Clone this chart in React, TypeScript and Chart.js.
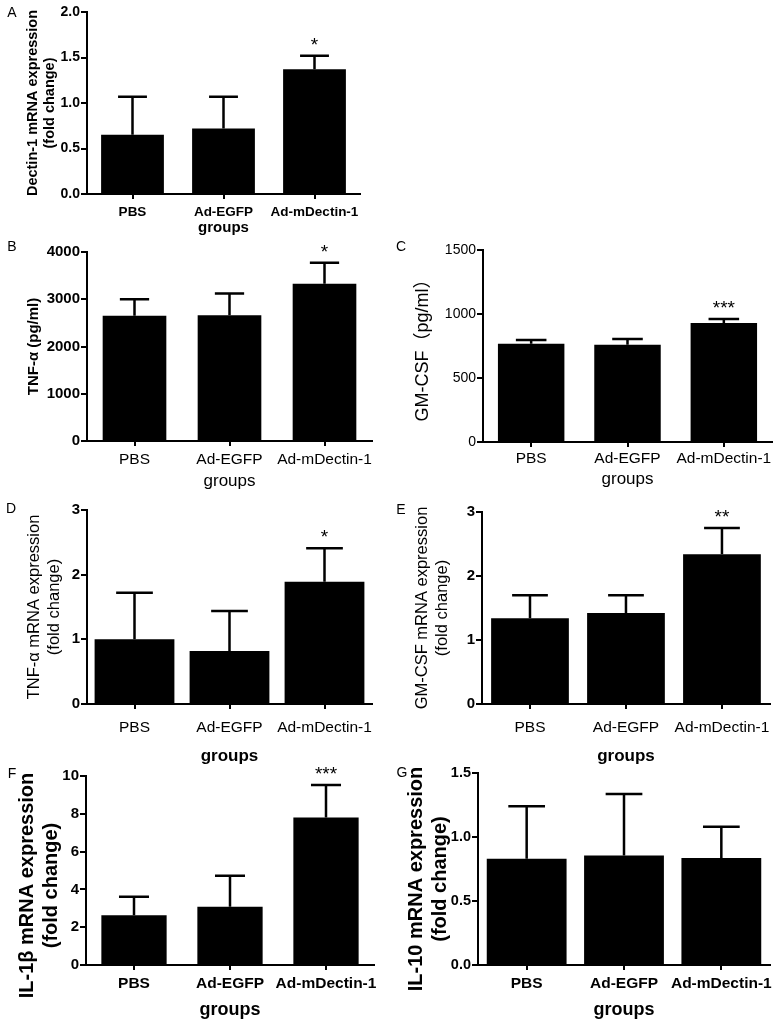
import React, { useEffect, useRef } from 'react';
import { Chart, registerables } from 'chart.js';

Chart.register(...registerables);

const FONT = "'Liberation Sans', Arial, 'Noto Sans CJK SC', sans-serif";

// ---- data ----
const groups = ['PBS', 'Ad-EGFP', 'Ad-mDectin-1'];

const dectinMrnaMean = [0.65, 0.72, 1.37];
const dectinMrnaSD = [0.42, 0.35, 0.15];
const dectinMrnaStars = ['', '', '*'];

const tnfProteinMean = [2650, 2660, 3330];
const tnfProteinSD = [350, 460, 440];
const tnfProteinStars = ['', '', '*'];

const gmcsfProteinMean = [768, 760, 930];
const gmcsfProteinSD = [28, 45, 31];
const gmcsfProteinStars = ['', '', '***'];

const tnfMrnaMean = [1.0, 0.82, 1.89];
const tnfMrnaSD = [0.72, 0.62, 0.52];
const tnfMrnaStars = ['', '', '*'];

const gmcsfMrnaMean = [1.34, 1.42, 2.34];
const gmcsfMrnaSD = [0.36, 0.28, 0.41];
const gmcsfMrnaStars = ['', '', '**'];

const il1bMrnaMean = [2.63, 3.08, 7.81];
const il1bMrnaSD = [0.98, 1.64, 1.71];
const il1bMrnaStars = ['', '', '***'];

const il10MrnaMean = [0.83, 0.855, 0.836];
const il10MrnaSD = [0.41, 0.48, 0.245];
const il10MrnaStars = ['', '', ''];

// ---- panel layout / styles ----
type Panel = {
  letter: string; lx: number; ly: number;
  x: number; y: number; w: number; h: number;
  yW: number; xH: number; padTop: number; padRight: number;
  mean: number[]; sd: number[]; stars: string[];
  max: number; step: number; dec: number;
  yTitle: string | string[]; yTitleFont: any; yTitlePad: number; titleShift: number;
  yTickFont: any; xTickFont: any; xTickPad: number;
  xTitleFont: any; xTitlePad: number; barPct: number;
};

const panels: Panel[] = [
  {
    letter: 'A', lx: 12, ly: 13, x: 0, y: 0, w: 390, h: 240,
    yW: 87, xH: 46, padTop: 12, padRight: 30,
    mean: dectinMrnaMean, sd: dectinMrnaSD, stars: dectinMrnaStars,
    max: 2, step: 0.5, dec: 1,
    yTitle: ['Dectin-1 mRNA expression', '(fold change)'], yTitleFont: { size: 14.5, weight: 'bold' }, yTitlePad: 24, titleShift: 0,
    yTickFont: { size: 14, weight: 'bold' }, xTickFont: { size: 13.5, weight: 'bold' }, xTickPad: 5,
    xTitleFont: { size: 15, weight: 'bold' }, xTitlePad: 3, barPct: 0.69,
  },
  {
    letter: 'B', lx: 12, ly: 12, x: 0, y: 235, w: 390, h: 260,
    yW: 87, xH: 54, padTop: 17, padRight: 18,
    mean: tnfProteinMean, sd: tnfProteinSD, stars: tnfProteinStars,
    max: 4000, step: 1000, dec: 0,
    yTitle: 'TNF-α (pg/ml)', yTitleFont: { size: 15, weight: 'bold' }, yTitlePad: 25, titleShift: 0,
    yTickFont: { size: 15, weight: 'bold' }, xTickFont: { size: 15.5, weight: 'normal' }, xTickPad: 4,
    xTitleFont: { size: 17, weight: 'normal' }, xTitlePad: 3, barPct: 0.67,
  },
  {
    letter: 'C', lx: 11, ly: 12, x: 390, y: 235, w: 390, h: 260,
    yW: 93, xH: 53, padTop: 15, padRight: 8,
    mean: gmcsfProteinMean, sd: gmcsfProteinSD, stars: gmcsfProteinStars,
    max: 1500, step: 500, dec: 0,
    yTitle: 'GM-CSF（pg/ml）', yTitleFont: { size: 18, weight: 'normal' }, yTitlePad: 22, titleShift: 0,
    yTickFont: { size: 14, weight: 'normal' }, xTickFont: { size: 15.5, weight: 'normal' }, xTickPad: 2,
    xTitleFont: { size: 17, weight: 'normal' }, xTitlePad: 5, barPct: 0.69,
  },
  {
    letter: 'D', lx: 11, ly: 14, x: 0, y: 495, w: 390, h: 275,
    yW: 87, xH: 66, padTop: 15, padRight: 18,
    mean: tnfMrnaMean, sd: tnfMrnaSD, stars: tnfMrnaStars,
    max: 3, step: 1, dec: 0,
    yTitle: ['TNF-α mRNA expression', '(fold change)'], yTitleFont: { size: 16.5, weight: 'normal' }, yTitlePad: 25, titleShift: 0,
    yTickFont: { size: 15, weight: 'bold' }, xTickFont: { size: 15.5, weight: 'normal' }, xTickPad: 9,
    xTitleFont: { size: 17, weight: 'bold' }, xTitlePad: 3, barPct: 0.84,
  },
  {
    letter: 'E', lx: 11, ly: 15, x: 390, y: 495, w: 390, h: 275,
    yW: 92, xH: 66, padTop: 17, padRight: 10,
    mean: gmcsfMrnaMean, sd: gmcsfMrnaSD, stars: gmcsfMrnaStars,
    max: 3, step: 1, dec: 0,
    yTitle: ['GM-CSF mRNA expression', '(fold change)'], yTitleFont: { size: 16.5, weight: 'normal' }, yTitlePad: 23, titleShift: 0,
    yTickFont: { size: 15, weight: 'bold' }, xTickFont: { size: 15.5, weight: 'normal' }, xTickPad: 9,
    xTitleFont: { size: 17, weight: 'bold' }, xTitlePad: 3, barPct: 0.81,
  },
  {
    letter: 'F', lx: 12, ly: 14, x: 0, y: 760, w: 390, h: 264,
    yW: 86, xH: 59, padTop: 16, padRight: 16,
    mean: il1bMrnaMean, sd: il1bMrnaSD, stars: il1bMrnaStars,
    max: 10, step: 2, dec: 0,
    yTitle: ['IL-1β mRNA expression', '(fold change)'], yTitleFont: { size: 20, weight: 'bold' }, yTitlePad: 15, titleShift: 15,
    yTickFont: { size: 15, weight: 'bold' }, xTickFont: { size: 15.5, weight: 'bold' }, xTickPad: 4,
    xTitleFont: { size: 18, weight: 'bold' }, xTitlePad: 3, barPct: 0.68,
  },
  {
    letter: 'G', lx: 12, ly: 13, x: 390, y: 760, w: 390, h: 264,
    yW: 88, xH: 59, padTop: 13, padRight: 10,
    mean: il10MrnaMean, sd: il10MrnaSD, stars: il10MrnaStars,
    max: 1.5, step: 0.5, dec: 1,
    yTitle: ['IL-10 mRNA expression', '(fold change)'], yTitleFont: { size: 20, weight: 'bold' }, yTitlePad: 14, titleShift: 10,
    yTickFont: { size: 14.5, weight: 'bold' }, xTickFont: { size: 15.5, weight: 'bold' }, xTickPad: 4,
    xTitleFont: { size: 18, weight: 'bold' }, xTitlePad: 3, barPct: 0.82,
  },
];

function PanelChart({ p }: { p: Panel }) {
  const ref = useRef<HTMLCanvasElement>(null);
  useEffect(() => {
    const manualTitle = p.titleShift !== 0;
    const annot = {
      id: 'annot',
      afterDatasetsDraw(chart: any) {
        const { ctx, chartArea } = chart;
        const meta = chart.getDatasetMeta(0);
        const ys = chart.scales.y;
        ctx.save();
        ctx.strokeStyle = '#000';
        ctx.fillStyle = '#000';
        ctx.lineWidth = 2.5;
        meta.data.forEach((el: any, i: number) => {
          const top = ys.getPixelForValue(p.mean[i] + p.sd[i]);
          const cw = el.width * 0.46;
          ctx.beginPath();
          ctx.moveTo(el.x, el.y);
          ctx.lineTo(el.x, top);
          ctx.moveTo(el.x - cw / 2, top);
          ctx.lineTo(el.x + cw / 2, top);
          ctx.stroke();
          if (p.stars[i]) {
            ctx.font = `19px ${FONT}`;
            ctx.textAlign = 'center';
            ctx.textBaseline = 'alphabetic';
            ctx.fillText(p.stars[i], el.x, top - 5);
          }
        });
        ctx.font = `14px ${FONT}`;
        ctx.textAlign = 'center';
        ctx.textBaseline = 'middle';
        ctx.fillText(p.letter, p.lx, p.ly);
        if (manualTitle) {
          const lines = Array.isArray(p.yTitle) ? p.yTitle : [p.yTitle];
          const size = p.yTitleFont.size;
          const lh = size * 1.2;
          ctx.font = `${p.yTitleFont.weight} ${size}px ${FONT}`;
          const cy = (chartArea.top + chartArea.bottom) / 2 + p.titleShift;
          lines.forEach((line: string, i: number) => {
            ctx.save();
            ctx.translate(p.yTitlePad + lh / 2 + i * lh, cy);
            ctx.rotate(-Math.PI / 2);
            ctx.textAlign = 'center';
            ctx.textBaseline = 'middle';
            ctx.fillText(line, 0, 0);
            ctx.restore();
          });
        }
        ctx.restore();
      },
    };
    const chart = new Chart(ref.current as HTMLCanvasElement, {
      type: 'bar',
      data: {
        labels: groups,
        datasets: [
          {
            data: p.mean,
            backgroundColor: '#000',
            borderWidth: 0,
            barPercentage: p.barPct,
            categoryPercentage: 1,
          },
        ],
      },
      options: {
        animation: false,
        responsive: false,
        devicePixelRatio: 1,
        layout: { padding: { left: 0, top: p.padTop, right: p.padRight, bottom: 0 } },
        plugins: { legend: { display: false }, tooltip: { enabled: false } },
        scales: {
          x: {
            type: 'category',
            offset: true,
            grid: {
              display: true, offset: false, drawOnChartArea: false, drawTicks: true,
              tickLength: 5, tickWidth: 2, tickColor: '#000', color: '#000', lineWidth: 2,
            },
            border: { display: true, color: '#000', width: 2 },
            ticks: {
              color: '#000', font: { family: FONT, ...p.xTickFont }, padding: p.xTickPad,
              maxRotation: 0, minRotation: 0, autoSkip: false,
            },
            title: {
              display: true, text: 'groups', color: '#000',
              font: { family: FONT, ...p.xTitleFont }, padding: { top: 0, bottom: p.xTitlePad },
            },
            afterFit: (s: any) => { s.height = p.xH; },
          },
          y: {
            min: 0,
            max: p.max,
            grid: {
              display: true, drawOnChartArea: false, drawTicks: true,
              tickLength: 6, tickWidth: 2, tickColor: '#000', color: '#000', lineWidth: 2,
            },
            border: { display: true, color: '#000', width: 2 },
            ticks: {
              stepSize: p.step,
              color: '#000',
              font: { family: FONT, ...p.yTickFont },
              padding: 1,
              callback: (v: any) => Number(v).toFixed(p.dec),
            },
            title: {
              display: !manualTitle, text: p.yTitle, color: '#000',
              font: { family: FONT, ...p.yTitleFont }, padding: { top: p.yTitlePad, bottom: 0 },
            },
            afterFit: (s: any) => { s.width = p.yW; },
          },
        },
      } as any,
      plugins: [annot],
    });
    return () => chart.destroy();
  }, [p]);
  return (
    <div style={{ position: 'absolute', left: p.x, top: p.y, width: p.w, height: p.h }}>
      <canvas ref={ref} width={p.w} height={p.h} />
    </div>
  );
}

export default function App() {
  return (
    <div style={{ position: 'absolute', left: 0, top: 0, width: 780, height: 1024, background: '#fff', overflow: 'hidden' }}>
      {panels.map((p) => (
        <PanelChart key={p.letter} p={p} />
      ))}
    </div>
  );
}
